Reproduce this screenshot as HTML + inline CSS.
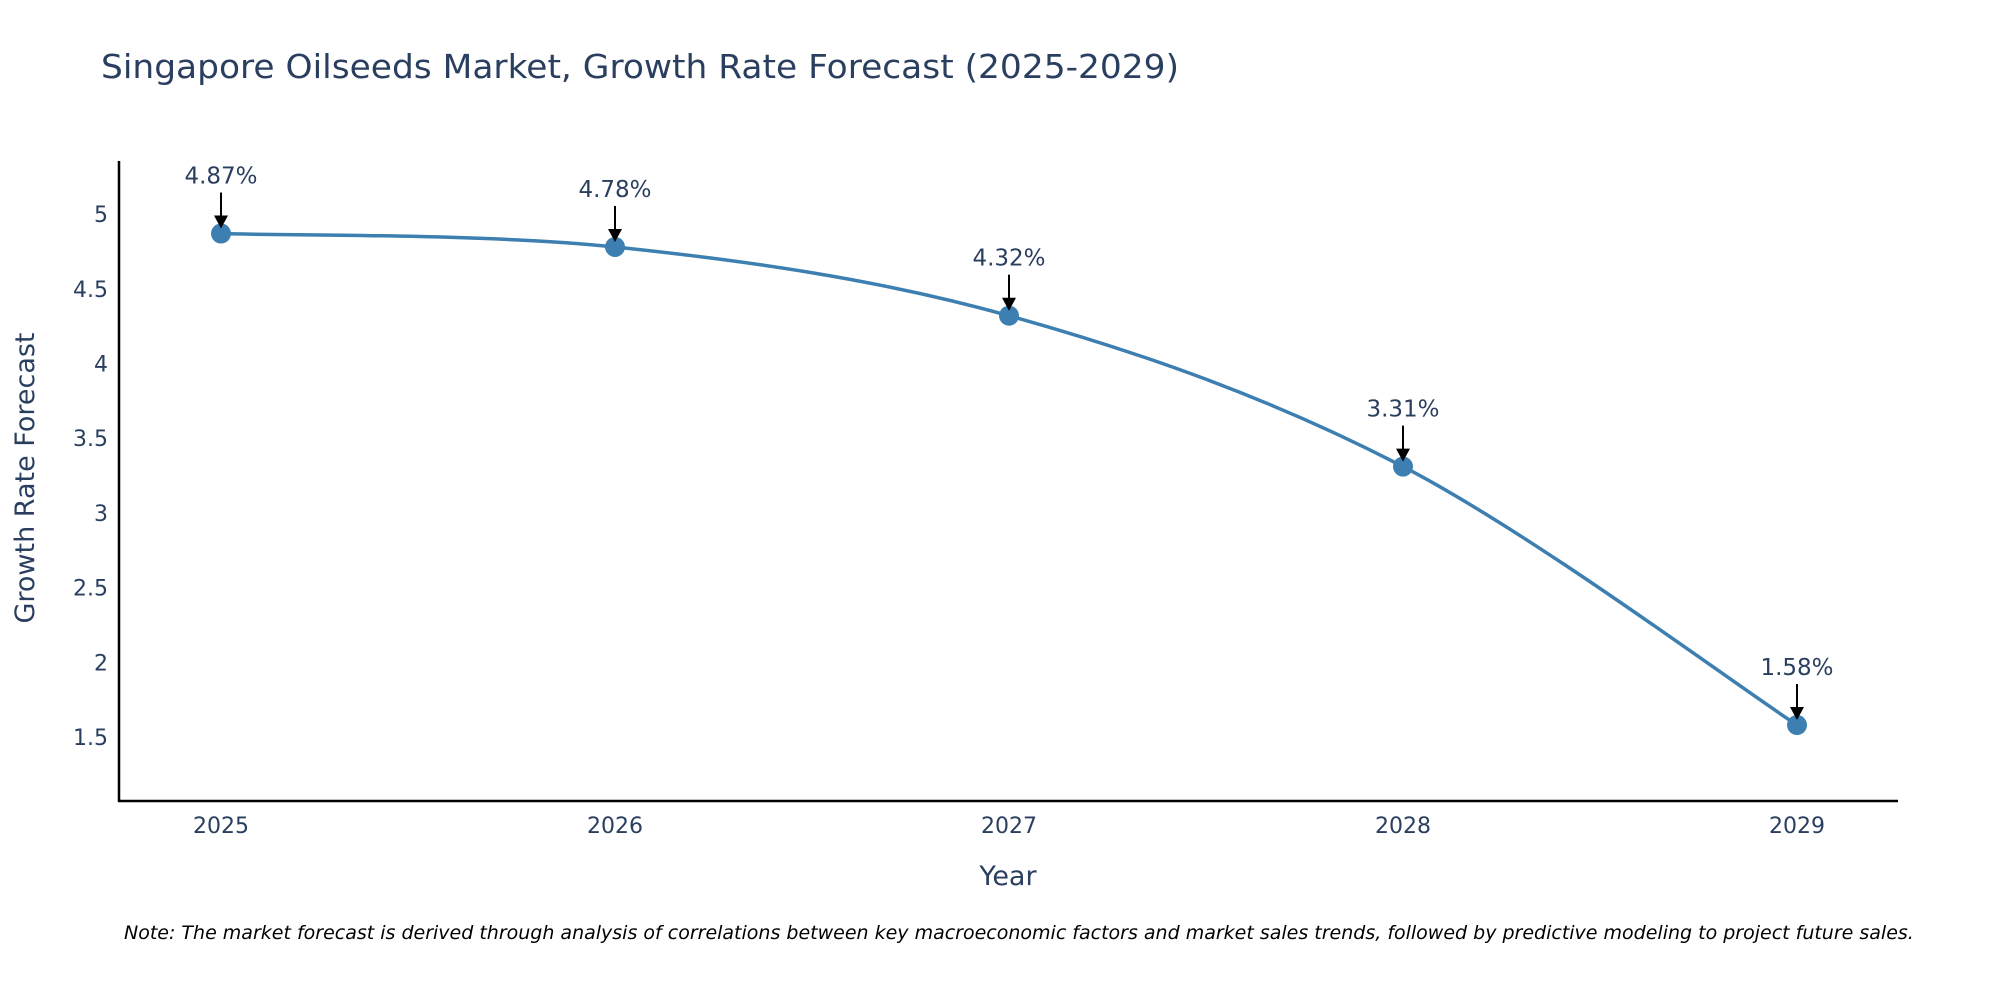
<!DOCTYPE html>
<html><head><meta charset="utf-8"><style>
body{margin:0;background:#fff;}
svg{display:block;font-family:"DejaVu Sans","Liberation Sans",sans-serif;}
</style></head><body>
<svg id="chart" width="2000" height="1000" viewBox="0 0 2000 1000">
<text x="101" y="78" font-size="33" fill="#2a3f5f" textLength="1078" lengthAdjust="spacingAndGlyphs">Singapore Oilseeds Market, Growth Rate Forecast (2025-2029)</text>
<g id="yticks"></g><g id="xticks"></g>
<line x1="119" y1="161" x2="119" y2="802" stroke="#000" stroke-width="2.5"/>
<line x1="118" y1="801" x2="1898" y2="801" stroke="#000" stroke-width="2.5"/>
<path id="line" fill="none" stroke="#3d7fb0" stroke-width="3.5"/>
<g id="marks"></g>
<text x="1008" y="885" font-size="27" fill="#2a3f5f" text-anchor="middle">Year</text>
<text transform="translate(34,478) rotate(-90)" font-size="27" fill="#2a3f5f" text-anchor="middle">Growth Rate Forecast</text>
<text x="124" y="939" font-size="19" font-style="italic" fill="#000">Note: The market forecast is derived through analysis of correlations between key macroeconomic factors and market sales trends, followed by predictive modeling to project future sales.</text>
</svg>
<script>
const years=[2025,2026,2027,2028,2029];
const values=[4.87,4.78,4.32,3.31,1.58];
const labels=["4.87%","4.78%","4.32%","3.31%","1.58%"];
const yTicks=[1.5,2,2.5,3,3.5,4,4.5,5];
const NS="http://www.w3.org/2000/svg";
function xs(yr){return 221+(yr-2025)*394;}
function ys(v){return 737-(v-1.5)*149.4;}
function mk(tag,attrs,parent){const e=document.createElementNS(NS,tag);for(const k in attrs)e.setAttribute(k,attrs[k]);parent.appendChild(e);return e;}
const yt=document.getElementById('yticks');
yTicks.forEach(v=>{const t=mk('text',{x:108,y:ys(v)+8,'font-size':22,fill:'#2a3f5f','text-anchor':'end'},yt);


t.textContent=String(v);});
const xt=document.getElementById('xticks');
years.forEach(yr=>{const t=mk('text',{x:xs(yr),y:833,'font-size':22,fill:'#2a3f5f','text-anchor':'middle'},xt);


t.textContent=String(yr);});
const P=years.map((y,i)=>[xs(y),ys(values[i])]);
let d='M'+P[0][0]+','+P[0][1];
for(let i=0;i<P.length-1;i++){const p0=P[Math.max(i-1,0)],p1=P[i],p2=P[i+1],p3=P[Math.min(i+2,P.length-1)];
const c1=[p1[0]+(p2[0]-p0[0])/6,p1[1]+(p2[1]-p0[1])/6],c2=[p2[0]-(p3[0]-p1[0])/6,p2[1]-(p3[1]-p1[1])/6];
d+=' C'+c1+' '+c2+' '+p2;}
document.getElementById('line').setAttribute('d',d);
const g=document.getElementById('marks');
P.forEach((p,i)=>{
const c=mk('circle',{cx:p[0],cy:p[1],r:10,fill:'#3d7fb0'},g);


const l=mk('line',{x1:p[0],y1:p[1]-41,x2:p[0],y2:p[1]-12,stroke:'#000','stroke-width':2},g);


const a=mk('polygon',{points:`${p[0]-7},${p[1]-18} ${p[0]+7},${p[1]-18} ${p[0]},${p[1]-5}`,fill:'#000'},g);


const t=mk('text',{x:p[0],y:p[1]-50,'font-size':23,fill:'#2a3f5f','text-anchor':'middle'},g);


t.textContent=labels[i];});
</script>
</body></html>
